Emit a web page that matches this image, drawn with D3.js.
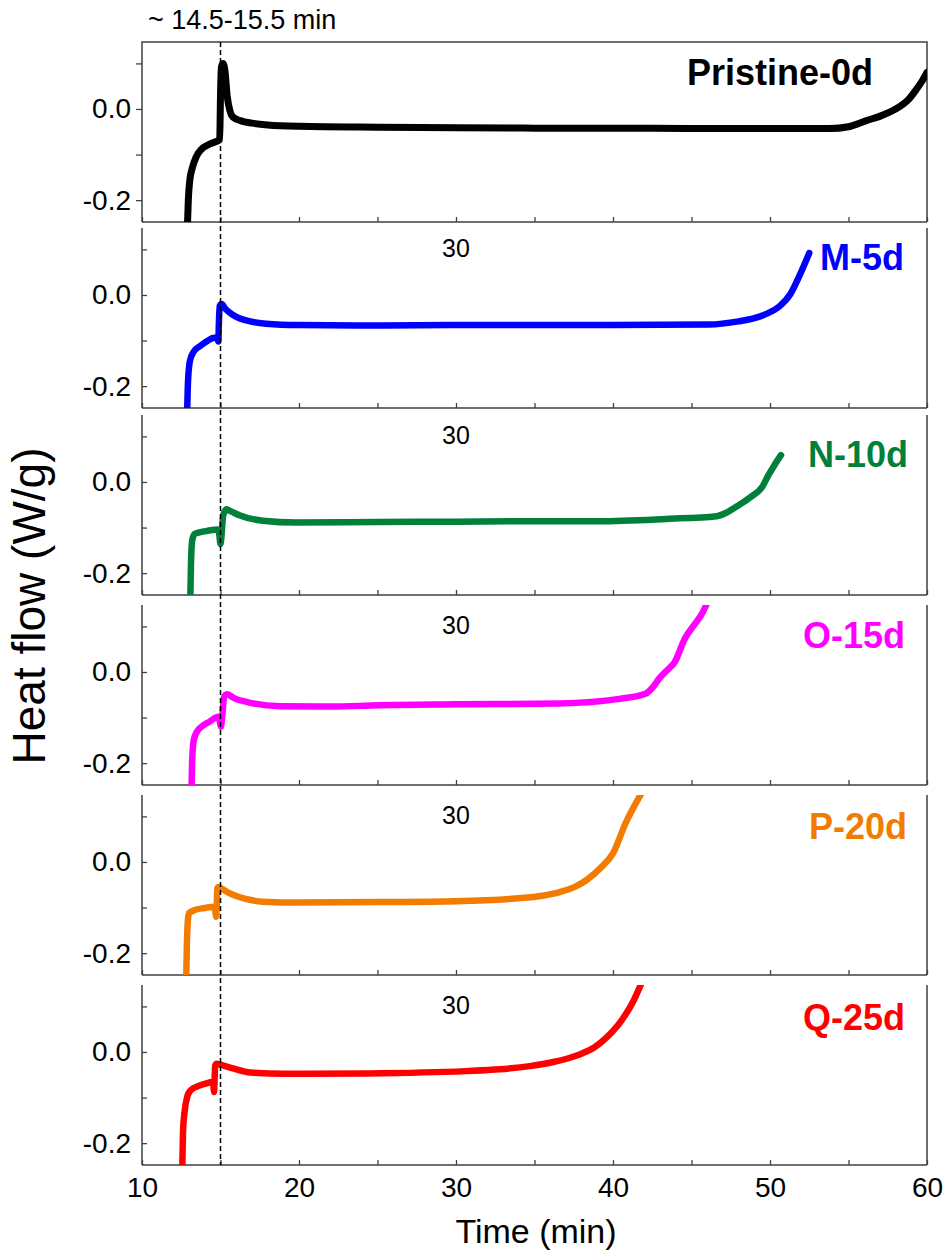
<!DOCTYPE html>
<html>
<head>
<meta charset="utf-8">
<script src="https://cdn.jsdelivr.net/npm/d3@7"></script>
<style>
  body { margin: 0; background: #fff; }
  svg { display: block; }
  text { font-family: "Liberation Sans", Arial, Helvetica, sans-serif; fill: #000; }
</style>
</head>
<body>
<svg id="chart" width="946" height="1251"></svg>
<script>
// Heat flow (W/g) against time (min), one stacked panel per aging state.
const sampleNames  = ["Pristine-0d", "M-5d", "N-10d", "O-15d", "P-20d", "Q-25d"];
const sampleColors = ["#000000", "#0000ff", "#00803a", "#ff00ff", "#f27c00", "#ff0000"];

// [time (min), heat flow (W/g)]
const pristine0d = [[12.90,-0.25],[12.95,-0.20],[13.05,-0.155],[13.2,-0.13],[13.45,-0.105],[13.8,-0.088],
  [14.2,-0.079],[14.6,-0.073],[14.95,-0.067],[15.0,0.03],[15.06,0.092],[15.15,0.100],[15.28,0.085],
  [15.42,0.030],[15.6,-0.004],[15.8,-0.018],[16.3,-0.026],[17,-0.031],[18,-0.035],[20,-0.038],[25,-0.040],
  [30,-0.041],[35,-0.042],[40,-0.042],[45,-0.043],[50,-0.043],[53.8,-0.043],[55,-0.039],[56.1,-0.026],
  [57.2,-0.013],[58.2,0.004],[58.8,0.020],[59.3,0.042],[59.7,0.062],[60,0.080]];
const m5d = [[12.88,-0.25],[12.93,-0.19],[13.05,-0.145],[13.3,-0.124],[13.7,-0.112],[14.2,-0.100],
  [14.6,-0.094],[14.8,-0.096],[14.86,-0.102],[14.9,-0.06],[14.95,-0.024],[15.07,-0.020],[15.3,-0.030],
  [15.8,-0.044],[16.9,-0.058],[17.9,-0.063],[20,-0.066],[25,-0.067],[30,-0.066],[35,-0.066],[40,-0.066],
  [46.1,-0.065],[48,-0.058],[49,-0.051],[49.8,-0.041],[50.6,-0.025],[51.3,0.002],[51.9,0.044],[52.5,0.092]];
const n10d = [[13.08,-0.25],[13.12,-0.18],[13.2,-0.128],[13.35,-0.114],[13.6,-0.111],[14.2,-0.107],
  [14.8,-0.104],[14.92,-0.115],[15.0,-0.136],[15.06,-0.12],[15.17,-0.074],[15.38,-0.060],[15.7,-0.065],
  [16.2,-0.073],[17.7,-0.085],[19.8,-0.089],[25,-0.088],[30,-0.087],[35,-0.086],[39.1,-0.086],
  [43.4,-0.081],[46.6,-0.075],[47.3,-0.066],[48,-0.051],[48.8,-0.032],[49.5,-0.011],[49.9,0.015],
  [50.3,0.038],[50.7,0.059]];
const o15d = [[13.16,-0.25],[13.2,-0.19],[13.3,-0.149],[13.5,-0.131],[13.8,-0.120],[14.3,-0.109],
  [14.86,-0.098],[14.96,-0.110],[15.03,-0.120],[15.1,-0.10],[15.24,-0.054],[15.43,-0.049],[15.9,-0.058],
  [16.7,-0.066],[18.8,-0.075],[22,-0.076],[25.1,-0.073],[30,-0.071],[36.6,-0.069],[40.4,-0.059],
  [42.1,-0.047],[42.5,-0.035],[42.95,-0.014],[43.6,0.009],[43.9,0.020],[44.6,0.075],[45.1,0.100],
  [45.7,0.130],[46.1,0.160]];
const p20d = [[12.82,-0.25],[12.86,-0.18],[12.93,-0.125],[13.0,-0.112],[13.4,-0.105],[14.0,-0.101],
  [14.62,-0.098],[14.68,-0.110],[14.72,-0.120],[14.76,-0.095],[14.8,-0.058],[14.88,-0.055],[15.1,-0.059],
  [15.6,-0.069],[16.6,-0.081],[17.7,-0.087],[20,-0.089],[25.1,-0.088],[30,-0.086],[33.8,-0.080],
  [35.5,-0.074],[36.6,-0.066],[37.6,-0.054],[38.3,-0.040],[39.3,-0.010],[40.0,0.019],[40.8,0.085],
  [41.8,0.150]];
const q25d = [[12.57,-0.25],[12.62,-0.17],[12.7,-0.135],[12.88,-0.098],[13.1,-0.084],[13.5,-0.076],
  [14.0,-0.070],[14.52,-0.066],[14.56,-0.078],[14.59,-0.088],[14.62,-0.065],[14.66,-0.030],[14.75,-0.026],
  [15.1,-0.029],[15.8,-0.036],[16.9,-0.045],[19,-0.048],[24.3,-0.047],[30.6,-0.042],[32.8,-0.038],
  [34.7,-0.031],[36.2,-0.022],[37.4,-0.011],[38.1,-0.002],[38.8,0.010],[39.6,0.032],[40.3,0.058],
  [40.8,0.082],[41.3,0.112],[41.8,0.150]];
const sampleSeries = [pristine0d, m5d, n10d, o15d, p20d, q25d];

const xDomain = [10, 60];
const yDomain = [-0.248, 0.147];
const xTickValues = [10, 15, 20, 25, 30, 35, 40, 45, 50, 55, 60];
const xTickLabels = [10, 20, 30, 40, 50, 60];
const yTickValues = [-0.2, -0.1, 0.0, 0.1];
const yTickLabels = [-0.2, 0.0];
const markerTime = 15;
const markerText = "~ 14.5-15.5 min";
const innerTopLabel = 30;
const xTitle = "Time (min)";
const yTitle = "Heat flow (W/g)";

// ---- layout ----
const panelTop = [42, 228, 415, 605, 795, 985];
const panelH = 180;
const left = 142, right = 927;
const nameRight = [873, 904, 908, 905, 907, 905];
const nameBaseline = [43, 42, 52, 43, 44, 45];

const svg = d3.select("#chart");
const x = d3.scaleLinear().domain(xDomain).range([left, right]);
const axisColor = "#404040";

const defs = svg.append("defs");

sampleSeries.forEach((series, i) => {
  const top = panelTop[i], bottom = top + panelH;
  const y = d3.scaleLinear().domain(yDomain).range([bottom, top]);
  const g = svg.append("g").attr("class", "panel");

  defs.append("clipPath").attr("id", "clip" + i)
    .append("rect").attr("x", left).attr("y", top).attr("width", right - left).attr("height", panelH);

  // frame: first panel fully boxed, others share the previous panel's bottom edge
  const frame = d3.path();
  if (i === 0) {
    frame.moveTo(left, bottom); frame.lineTo(left, top); frame.lineTo(right, top); frame.lineTo(right, bottom);
  } else {
    frame.moveTo(left, bottom); frame.lineTo(left, top);
    frame.moveTo(right, top); frame.lineTo(right, bottom);
  }
  frame.moveTo(left, bottom); frame.lineTo(right, bottom);
  g.append("path").attr("d", frame.toString())
    .attr("fill", "none").attr("stroke", axisColor).attr("stroke-width", 1.5);

  // bottom ticks (inward)
  const xAxis = d3.axisBottom(x).tickValues(xTickValues).tickSizeInner(-5).tickSizeOuter(0)
    .tickPadding(12)
    .tickFormat(d => (i === sampleSeries.length - 1 && xTickLabels.includes(d)) ? String(d) : "");
  const gx = g.append("g").attr("transform", `translate(0,${bottom})`).call(xAxis);
  gx.select(".domain").remove();
  gx.selectAll(".tick line").attr("stroke", axisColor).attr("stroke-width", 1.3);
  gx.selectAll(".tick text").attr("font-size", 28).attr("font-family", null).attr("fill", "#000");

  // left ticks
  const tickLen = i === 0 ? 6 : -5;
  const yAxis = d3.axisLeft(y).tickValues(yTickValues).tickSizeInner(tickLen).tickSizeOuter(0)
    .tickPadding(i === 0 ? 5 : 11)
    .tickFormat(d => yTickLabels.some(v => Math.abs(v - d) < 1e-9) ? d.toFixed(1) : "");
  const gy = g.append("g").attr("transform", `translate(${left},0)`).call(yAxis);
  gy.select(".domain").remove();
  gy.selectAll(".tick line").attr("stroke", axisColor).attr("stroke-width", 1.3);
  gy.selectAll(".tick text").attr("font-size", 28).attr("font-family", null).attr("fill", "#000");

  // stray top-axis label inside the lower panels
  if (i > 0) {
    g.append("text").attr("x", x(innerTopLabel)).attr("y", top + 29)
      .attr("text-anchor", "middle").attr("font-size", 25).text(String(innerTopLabel));
  }

  // trace
  const line = d3.line().x(d => x(d[0])).y(d => y(d[1])).curve(d3.curveMonotoneX);
  g.append("path").datum(series)
    .attr("clip-path", `url(#clip${i})`)
    .attr("d", line)
    .attr("fill", "none")
    .attr("stroke", sampleColors[i])
    .attr("stroke-width", i === 0 ? 7 : 6.5)
    .attr("stroke-linejoin", "round")
    .attr("stroke-linecap", "round");

  // sample name
  g.append("text").attr("x", nameRight[i]).attr("y", top + nameBaseline[i])
    .attr("text-anchor", "end").attr("font-size", 36).attr("font-weight", "bold")
    .style("fill", sampleColors[i]).text(sampleNames[i]);
});

// dashed marker across all panels
svg.append("line")
  .attr("x1", x(markerTime)).attr("x2", x(markerTime))
  .attr("y1", panelTop[0]).attr("y2", panelTop[panelTop.length - 1] + panelH)
  .attr("stroke", "#000").attr("stroke-width", 1.5).attr("stroke-dasharray", "5,3");

svg.append("text").attr("x", 148).attr("y", 29).attr("font-size", 27).text(markerText);

// axis titles
svg.append("text").attr("x", 536).attr("y", 1243)
  .attr("text-anchor", "middle").attr("font-size", 34).text(xTitle);
svg.append("text").attr("transform", "translate(45,606) rotate(-90)")
  .attr("text-anchor", "middle").attr("font-size", 46).text(yTitle);
</script>
</body>
</html>
